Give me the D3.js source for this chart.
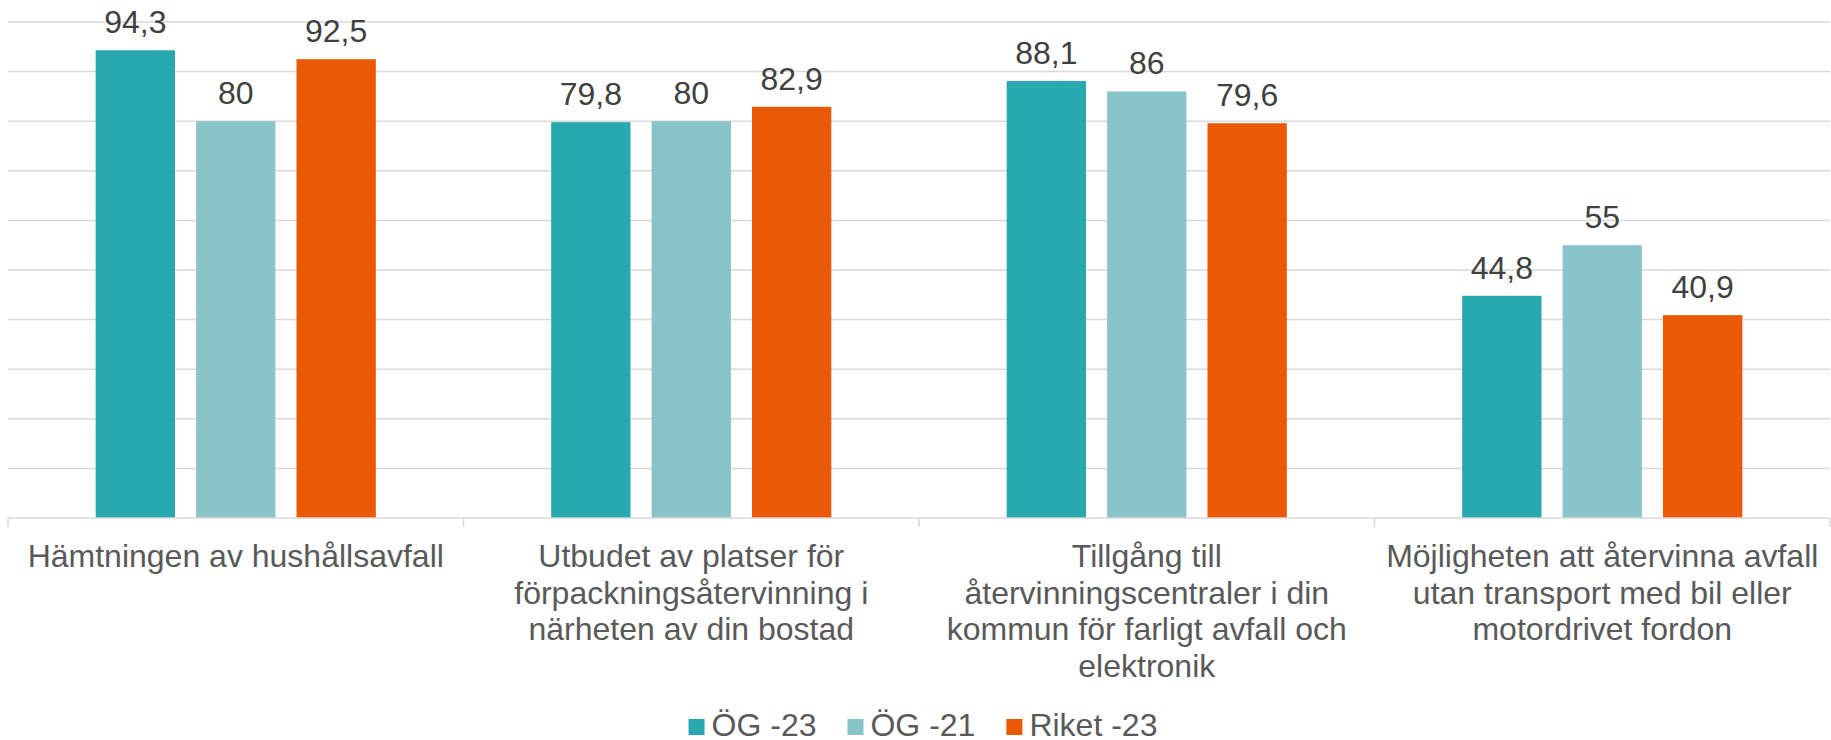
<!DOCTYPE html>
<html>
<head>
<meta charset="utf-8">
<script src="https://cdn.jsdelivr.net/npm/d3@7"></script>
<style>
  body { margin: 0; background: #fff; }
  text { font-family: "Liberation Sans", Arial, sans-serif; }
</style>
</head>
<body>
<div id="chart"></div>
<script>
// data
const categories = [
    "Hämtningen av hushållsavfall",
    "Utbudet av platser för\nförpackningsåtervinning i\nnärheten av din bostad",
    "Tillgång till\nåtervinningscentraler i din\nkommun för farligt avfall och\nelektronik",
    "Möjligheten att återvinna avfall\nutan transport med bil eller\nmotordrivet fordon"
];
const seriesNames = ["ÖG -23", "ÖG -21", "Riket -23"];
const og23 = [94.3, 79.8, 88.1, 44.8];
const og21 = [80, 80, 86, 55];
const riket23 = [92.5, 82.9, 79.6, 40.9];
const yTicks = [0, 10, 20, 30, 40, 50, 60, 70, 80, 90, 100];

const seriesValues = [og23, og21, riket23];
const colors = ["#2AA8B0", "#8AC4CB", "#EA5A04"];

const W = 1831, H = 740;
const margin = {top: 22, right: 1, bottom: 222, left: 8},
      width = W - margin.left - margin.right,
      height = H - margin.top - margin.bottom;

const svg = d3.select("#chart")
    .append("svg")
        .attr("width", W)
        .attr("height", H)
        .append("g")
            .attr("transform", `translate(${margin.left},${margin.top})`);

// scales
const x0 = d3.scaleBand()
    .domain(categories)
    .range([0, width])
    .padding(0);

const outer = x0.bandwidth() * 0.1925;
const x1 = d3.scaleBand()
    .domain(seriesNames)
    .range([outer, x0.bandwidth() - outer])
    .paddingInner(0.21)
    .paddingOuter(0);

const y = d3.scaleLinear()
    .domain([0, 100])
    .range([height, 0]);

// gridlines
svg.append("g")
    .attr("class", "grid")
    .selectAll("line")
    .data(yTicks.slice(1))
    .join("line")
        .attr("x1", 0)
        .attr("x2", width)
        .attr("y1", d => y(d))
        .attr("y2", d => y(d))
        .attr("stroke", "#d9d9d9")
        .attr("stroke-width", 1.5);

// bars
const rows = categories.map((c, i) => ({
    cat: c,
    vals: seriesNames.map((s, j) => ({series: s, value: seriesValues[j][i], color: colors[j]}))
}));

const groups = svg.append("g")
    .selectAll("g")
    .data(rows)
    .join("g")
        .attr("transform", d => `translate(${x0(d.cat)},0)`);

groups.selectAll("rect")
    .data(d => d.vals)
    .join("rect")
        .attr("x", d => x1(d.series))
        .attr("y", d => y(d.value))
        .attr("width", x1.bandwidth())
        .attr("height", d => height - y(d.value))
        .attr("fill", d => d.color);

groups.selectAll("text.val")
    .data(d => d.vals)
    .join("text")
        .attr("class", "val")
        .attr("x", d => x1(d.series) + x1.bandwidth() / 2)
        .attr("y", d => y(d.value) - 17)
        .attr("text-anchor", "middle")
        .attr("font-size", "32px")
        .attr("fill", "#404040")
        .text(d => String(d.value).replace(".", ","));

// x axis: baseline, ticks between categories, wrapped labels
const axis = svg.append("g")
    .attr("transform", `translate(0,${height})`);

axis.append("line")
    .attr("x1", 0)
    .attr("x2", width)
    .attr("stroke", "#d9d9d9")
    .attr("stroke-width", 1.5);

axis.selectAll("line.tick")
    .data(categories.map(c => x0(c)).concat([width]))
    .join("line")
        .attr("class", "tick")
        .attr("x1", d => d)
        .attr("x2", d => d)
        .attr("y1", 0)
        .attr("y2", 9)
        .attr("stroke", "#d9d9d9")
        .attr("stroke-width", 1.5);

axis.selectAll("text.cat")
    .data(categories)
    .join("text")
        .attr("class", "cat")
        .attr("text-anchor", "middle")
        .attr("font-size", "32px")
        .attr("fill", "#595959")
        .attr("transform", d => `translate(${x0(d) + x0.bandwidth() / 2},49)`)
        .selectAll("tspan")
        .data(d => d.split("\n"))
        .join("tspan")
            .attr("x", 0)
            .attr("y", (d, i) => i * 36.7)
            .text(d => d);

// legend
const legend = svg.append("g")
    .attr("transform", `translate(0,${H - margin.top - 4})`);

const items = legend.selectAll("g")
    .data(seriesNames)
    .join("g");

items.append("rect")
    .attr("x", 0)
    .attr("y", -17)
    .attr("width", 16)
    .attr("height", 16)
    .attr("fill", (d, i) => colors[i]);

items.append("text")
    .attr("x", 23)
    .attr("font-size", "32px")
    .attr("fill", "#595959")
    .text(d => d);

let offs = [], total = 0;
items.each(function(d, i) {
    const w = 23 + d3.select(this).select("text").node().getComputedTextLength();
    offs.push(total);
    total += w + (i < seriesNames.length - 1 ? 31 : 0);
});
const start = 923 - margin.left - total / 2;
items.attr("transform", (d, i) => `translate(${start + offs[i]},0)`);
</script>
</body>
</html>
